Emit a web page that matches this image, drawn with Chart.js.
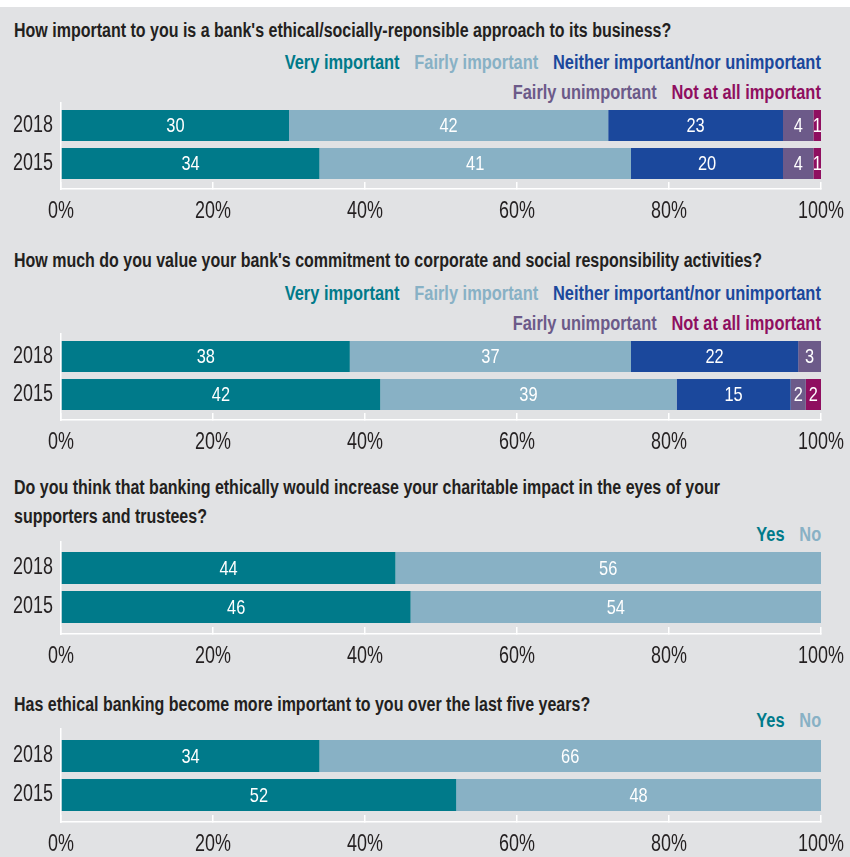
<!DOCTYPE html>
<html>
<head>
<meta charset="utf-8">
<script src="https://cdn.jsdelivr.net/npm/chart.js@4.4.1/dist/chart.umd.min.js"></script>
<style>
  body { margin: 0; background: #fff; }
  #page { position: relative; width: 850px; height: 857px; overflow: hidden; background: #fff; }
  #panel { position: absolute; left: 0; top: 7px; width: 850px; height: 850px; background: #e1e2e4; }
  .narrow { font-family: "Liberation Sans", Arial, sans-serif; font-weight: bold; font-size: 20px; white-space: nowrap; }
  .title { position: absolute; left: 14px; line-height: 29px; color: #231f20; transform: scaleX(0.80); transform-origin: 0 0; }
  .legend { position: absolute; right: 29px; text-align: right; line-height: 30px; transform: scaleX(0.82); transform-origin: 100% 0; }
  .legend span { margin-left: 18px; }
  .chartbox { position: absolute; left: 0; }
</style>
</head>
<body>
<div id="page">
  <div id="panel"></div>
</div>
<script>
// --- data -------------------------------------------------------------
const years = ['2018', '2015'];
const xTicks = [0, 20, 40, 60, 80, 100];

const importanceLabels = ['Very important', 'Fairly important', 'Neither important/nor unimportant',
  'Fairly unimportant', 'Not at all important'];
const yesNoLabels = ['Yes', 'No'];

const q1Title = "How important to you is a bank's ethical/socially-reponsible approach to its business?";
const q1Values2018 = [30, 42, 23, 4, 1];
const q1Values2015 = [34, 41, 20, 4, 1];

const q2Title = "How much do you value your bank's commitment to corporate and social responsibility activities?";
const q2Values2018 = [38, 37, 22, 3, 0];
const q2Values2015 = [42, 39, 15, 2, 2];

const q3Title = ['Do you think that banking ethically would increase your charitable impact in the eyes of your',
  'supporters and trustees?'];
const q3Values2018 = [44, 56];
const q3Values2015 = [46, 54];

const q4Title = 'Has ethical banking become more important to you over the last five years?';
const q4Values2018 = [34, 66];
const q4Values2015 = [52, 48];

// --- style ------------------------------------------------------------
const colors = ['#007a8a', '#88b1c5', '#1b489c', '#6c5a89', '#8f0f60'];
const ink = '#231f20';
const FONT = '"Liberation Sans", Arial, sans-serif';
const SQUEEZE = 0.78; // canvas text is drawn horizontally condensed
Chart.defaults.font.family = FONT;

const page = document.getElementById('page');

function addText(cls, top, html) {
  const d = document.createElement('div');
  d.className = cls + ' narrow';
  d.style.top = top + 'px';
  d.innerHTML = html;
  page.appendChild(d);
}

function legendHtml(labels, rows) {
  return rows.map(row => row.map(i =>
    `<span style="color:${colors[i]}">${labels[i]}</span>`).join('')).join('<br>');
}

// narrow look for every string chart.js writes on this canvas
const condensedText = {
  id: 'condensedText',
  beforeInit(chart) {
    const ctx = chart.ctx;
    const fill = ctx.fillText.bind(ctx);
    ctx.fillText = function (text, x, y) {
      ctx.save();
      ctx.translate(x, y);
      ctx.scale(SQUEEZE, 1);
      fill(text, 0, 0);
      ctx.restore();
    };
  }
};

// white value labels centred in each segment
const segmentLabels = {
  id: 'segmentLabels',
  afterDatasetsDraw(chart) {
    const ctx = chart.ctx;
    ctx.save();
    ctx.fillStyle = '#fff';
    ctx.font = '21px ' + FONT;
    ctx.textAlign = 'center';
    ctx.textBaseline = 'middle';
    chart.data.datasets.forEach((ds, di) => {
      const meta = chart.getDatasetMeta(di);
      meta.data.forEach((bar, i) => {
        const v = ds.data[i].x;
        if (!v) return;
        const p = bar.getProps(['x', 'y', 'base'], true);
        ctx.fillText(String(v), (p.x + p.base) / 2, p.y + 1);
      });
    });
    ctx.restore();
  }
};

// g: y-axis line top/bottom, the two bar centres and bar thickness, in page pixels
function makeChart(labels, v2018, v2015, g) {
  const padTop = 4, axisH = 42;
  const box = document.createElement('div');
  box.className = 'chartbox';
  box.style.top = (g.top - padTop) + 'px';
  const canvas = document.createElement('canvas');
  canvas.width = 850;
  canvas.height = padTop + (g.bottom - g.top) + axisH;
  box.appendChild(canvas);
  page.appendChild(box);

  const unit = g.c2 - g.c1;
  const yMin = -(g.c1 - g.top) / unit;
  const yMax = 1 + (g.bottom - g.c2) / unit;

  new Chart(canvas, {
    type: 'bar',
    data: {
      datasets: labels.map((lab, i) => ({
        label: lab,
        data: [{ x: v2018[i], y: 0 }, { x: v2015[i], y: 1 }],
        backgroundColor: colors[i],
        borderWidth: 0,
        grouped: false,
        categoryPercentage: 1,
        barPercentage: g.thick / unit
      }))
    },
    options: {
      indexAxis: 'y',
      responsive: false,
      animation: false,
      layout: { padding: { top: padTop, right: 29, left: 0, bottom: 0 } },
      plugins: { legend: { display: false }, tooltip: { enabled: false } },
      scales: {
        x: {
          type: 'linear',
          stacked: true,
          min: 0,
          max: 100,
          afterBuildTicks: s => { s.ticks = xTicks.map(v => ({ value: v })); },
          afterFit: s => { s.height = axisH; s.paddingLeft = 0; s.paddingRight = 0; },
          border: { display: true, color: '#fff', width: 1.5 },
          grid: { drawOnChartArea: false, drawTicks: true, tickLength: -7, color: '#fff', lineWidth: 1.5 },
          ticks: { color: ink, font: { size: 23 }, padding: 16, maxRotation: 0, callback: v => v + '%' }
        },
        y: {
          type: 'linear',
          reverse: true,
          offset: false,
          min: yMin,
          max: yMax,
          afterBuildTicks: s => { s.ticks = years.map((y, i) => ({ value: i })); },
          afterFit: s => { s.width = 61; s.paddingTop = 0; s.paddingBottom = 0; },
          border: { display: true, color: '#fff', width: 1.5 },
          grid: { display: false, drawTicks: false },
          ticks: { color: ink, font: { size: 23 }, padding: 8, callback: v => years[v] }
        }
      }
    },
    plugins: [condensedText, segmentLabels]
  });
}

// --- panels -----------------------------------------------------------
addText('title', 16, q1Title);
addText('legend', 47, legendHtml(importanceLabels, [[0, 1, 2], [3, 4]]));
makeChart(importanceLabels, q1Values2018, q1Values2015, { top: 103, bottom: 189, c1: 125.5, c2: 163.5, thick: 31 });

addText('title', 246, q2Title);
addText('legend', 278, legendHtml(importanceLabels, [[0, 1, 2], [3, 4]]));
makeChart(importanceLabels, q2Values2018, q2Values2015, { top: 334, bottom: 420, c1: 356.5, c2: 394.5, thick: 31 });

addText('title', 473, q3Title.join('<br>'));
addText('legend', 519, legendHtml(yesNoLabels, [[0, 1]]));
makeChart(yesNoLabels, q3Values2018, q3Values2015, { top: 542, bottom: 634, c1: 568, c2: 607, thick: 32 });

addText('title', 690, q4Title);
addText('legend', 705, legendHtml(yesNoLabels, [[0, 1]]));
makeChart(yesNoLabels, q4Values2018, q4Values2015, { top: 729, bottom: 822, c1: 756, c2: 795, thick: 32 });
</script>
</body>
</html>
